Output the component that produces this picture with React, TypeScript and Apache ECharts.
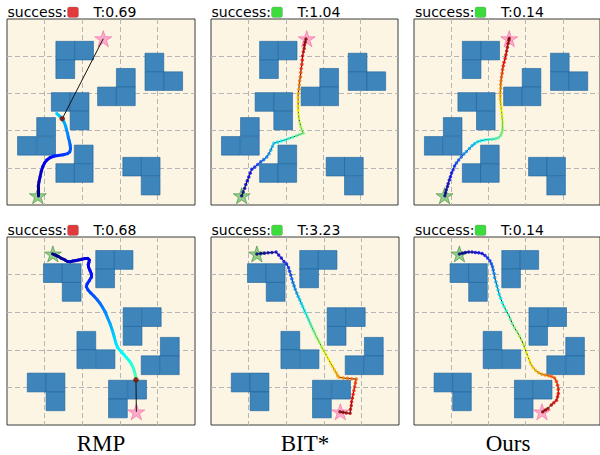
import React, { useEffect, useRef } from "react";
import * as echarts from "echarts";

// ---------------- data ----------------
const methodLabels = ["RMP", "BIT*", "Ours"];
const timesTop = ["T:0.69", "T:1.04", "T:0.14"];
const timesBottom = ["T:0.68", "T:3.23", "T:0.14"];
const successTop = [false, true, true];
const successBottom = [false, true, true];

const obstacleSize = 0.5;
// lower-left corners of square obstacles
const obstaclesTop = [
  [1.30, 3.90], [1.80, 3.90], [1.30, 3.40],
  [2.91, 3.17], [2.41, 2.67], [2.91, 2.67],
  [3.67, 3.58], [3.67, 3.08], [4.17, 3.08],
  [1.18, 2.52], [1.68, 2.52], [1.68, 2.02],
  [0.79, 1.85], [0.28, 1.34], [0.79, 1.34],
  [1.79, 1.11], [1.30, 0.61], [1.79, 0.61],
  [3.08, 0.78], [3.57, 0.78], [3.57, 0.27],
];
const obstaclesBottom = [
  [0.97, 3.79], [1.47, 3.79], [1.47, 3.29],
  [2.36, 4.14], [2.85, 4.14], [2.36, 3.65],
  [3.09, 2.62], [3.60, 2.62], [3.09, 2.12],
  [1.86, 1.99], [1.86, 1.50], [2.37, 1.50],
  [4.08, 1.83], [3.57, 1.34], [4.08, 1.34],
  [0.54, 0.88], [1.04, 0.88], [1.04, 0.38],
  [2.70, 0.69], [3.21, 0.69], [2.70, 0.19],
];

const startTop = [0.82, 0.25];
const goalTop = [2.56, 4.47];
const startBottom = [1.22, 4.55];
const goalBottom = [3.44, 0.35];

const rmpTop = [
  [0.82, 0.24], [0.82, 0.36], [0.83, 0.49], [0.85, 0.62], [0.88, 0.76], [0.91, 0.90],
  [0.95, 1.03], [1.00, 1.13], [1.06, 1.21], [1.14, 1.27], [1.24, 1.31], [1.36, 1.33],
  [1.50, 1.35], [1.61, 1.38], [1.67, 1.43], [1.69, 1.52], [1.68, 1.61], [1.66, 1.71],
  [1.63, 1.82], [1.61, 1.93], [1.58, 2.03], [1.56, 2.12], [1.52, 2.22], [1.48, 2.30],
  [1.43, 2.36], [1.38, 2.41], [1.32, 2.46],
];
const rmpTopStuck = [1.47, 2.32];
const rmpTopColorEnd = 0.33;

const rmpBottom = [
  [1.21, 4.55], [1.29, 4.52], [1.37, 4.48], [1.45, 4.43], [1.54, 4.39], [1.61, 4.35],
  [1.68, 4.34], [1.75, 4.36], [1.81, 4.37], [1.90, 4.39], [1.99, 4.41], [2.08, 4.43],
  [2.15, 4.43], [2.19, 4.39], [2.18, 4.33], [2.16, 4.27], [2.17, 4.20], [2.21, 4.10],
  [2.24, 4.02], [2.24, 3.93], [2.19, 3.84], [2.13, 3.75], [2.11, 3.68], [2.15, 3.60],
  [2.22, 3.52], [2.31, 3.43], [2.40, 3.33], [2.47, 3.24], [2.54, 3.13], [2.61, 3.01],
  [2.67, 2.86], [2.74, 2.70], [2.80, 2.52], [2.85, 2.35], [2.89, 2.20], [2.94, 2.06],
  [3.02, 1.97], [3.10, 1.88], [3.18, 1.79], [3.25, 1.71], [3.31, 1.62], [3.36, 1.51],
  [3.39, 1.42], [3.41, 1.33], [3.43, 1.20],
];
const rmpBottomStuck = [3.43, 1.20];
const rmpBottomColorEnd = 0.45;

const bitTop = [
  [0.82, 0.25], [0.86, 0.35], [0.90, 0.45], [0.93, 0.55], [0.97, 0.65], [1.01, 0.75],
  [1.05, 0.86], [1.09, 0.96], [1.17, 1.02], [1.25, 1.09], [1.33, 1.16], [1.41, 1.22],
  [1.49, 1.29], [1.55, 1.38], [1.60, 1.48], [1.64, 1.57], [1.68, 1.66], [1.78, 1.69],
  [1.88, 1.72], [1.98, 1.75], [2.08, 1.79], [2.18, 1.82], [2.28, 1.86], [2.38, 1.90],
  [2.47, 1.93], [2.43, 2.02], [2.40, 2.11], [2.37, 2.22], [2.35, 2.33], [2.34, 2.44],
  [2.33, 2.55], [2.33, 2.66], [2.33, 2.78], [2.33, 2.89], [2.33, 3.00], [2.35, 3.11],
  [2.36, 3.23], [2.37, 3.34], [2.39, 3.45], [2.40, 3.56], [2.41, 3.67], [2.43, 3.78],
  [2.44, 3.90], [2.45, 4.01], [2.47, 4.12], [2.49, 4.21], [2.50, 4.30], [2.52, 4.38],
  [2.54, 4.46],
];

const oursTop = [
  [0.83, 0.25], [0.85, 0.33], [0.87, 0.41], [0.90, 0.50], [0.92, 0.58], [0.95, 0.67],
  [0.98, 0.76], [1.01, 0.86], [1.05, 0.95], [1.09, 1.05], [1.14, 1.13], [1.20, 1.21],
  [1.27, 1.29], [1.34, 1.37], [1.41, 1.44], [1.49, 1.52], [1.56, 1.59], [1.63, 1.65],
  [1.71, 1.70], [1.80, 1.73], [1.90, 1.75], [2.00, 1.76], [2.10, 1.77], [2.19, 1.78],
  [2.27, 1.81], [2.33, 1.87], [2.36, 1.95], [2.38, 2.04], [2.38, 2.14], [2.38, 2.24],
  [2.37, 2.34], [2.36, 2.44], [2.35, 2.54], [2.34, 2.64], [2.33, 2.74], [2.32, 2.84],
  [2.32, 2.94], [2.32, 3.04], [2.33, 3.14], [2.33, 3.24], [2.34, 3.34], [2.35, 3.44],
  [2.37, 3.54], [2.38, 3.64], [2.40, 3.74], [2.42, 3.84], [2.45, 3.94], [2.47, 4.04],
  [2.49, 4.14], [2.51, 4.24], [2.53, 4.34], [2.55, 4.43], [2.56, 4.48],
];

const bitBottom = [
  [1.22, 4.55], [1.32, 4.56], [1.42, 4.57], [1.52, 4.58], [1.62, 4.59], [1.73, 4.60],
  [1.80, 4.52], [1.87, 4.44], [1.94, 4.35], [2.01, 4.28], [2.06, 4.19], [2.09, 4.09],
  [2.12, 3.99], [2.15, 3.89], [2.18, 3.79], [2.21, 3.70], [2.24, 3.61], [2.28, 3.51],
  [2.32, 3.42], [2.36, 3.33], [2.40, 3.24], [2.44, 3.15], [2.48, 3.06], [2.52, 2.97],
  [2.56, 2.88], [2.60, 2.79], [2.64, 2.70], [2.68, 2.61], [2.72, 2.52], [2.76, 2.44],
  [2.80, 2.35], [2.85, 2.26], [2.89, 2.18], [2.94, 2.09], [2.98, 2.00], [3.03, 1.92],
  [3.08, 1.83], [3.13, 1.74], [3.18, 1.65], [3.23, 1.56], [3.28, 1.47], [3.33, 1.39],
  [3.37, 1.31], [3.41, 1.27], [3.52, 1.25], [3.63, 1.24], [3.74, 1.23], [3.86, 1.22],
  [3.84, 1.12], [3.82, 1.02], [3.80, 0.92], [3.78, 0.82], [3.76, 0.72], [3.74, 0.62],
  [3.73, 0.52], [3.71, 0.42], [3.70, 0.31], [3.60, 0.32], [3.51, 0.34], [3.43, 0.35],
];

const oursBottom = [
  [1.22, 4.55], [1.30, 4.57], [1.38, 4.59], [1.47, 4.60], [1.56, 4.60], [1.65, 4.59],
  [1.74, 4.58], [1.83, 4.56], [1.91, 4.51], [1.98, 4.44], [2.04, 4.37], [2.08, 4.29],
  [2.11, 4.21], [2.13, 4.12], [2.15, 4.03], [2.17, 3.92], [2.20, 3.81], [2.23, 3.70],
  [2.26, 3.59], [2.29, 3.48], [2.33, 3.37], [2.37, 3.26], [2.42, 3.15], [2.48, 3.04],
  [2.54, 2.93], [2.59, 2.82], [2.64, 2.70], [2.70, 2.59], [2.77, 2.48], [2.83, 2.37],
  [2.89, 2.26], [2.94, 2.15], [2.98, 2.04], [3.02, 1.93], [3.06, 1.82], [3.10, 1.72],
  [3.14, 1.62], [3.20, 1.53], [3.27, 1.45], [3.35, 1.39], [3.44, 1.35], [3.53, 1.33],
  [3.62, 1.31], [3.70, 1.29], [3.78, 1.25], [3.83, 1.16], [3.86, 1.06], [3.88, 0.95],
  [3.88, 0.84], [3.86, 0.75], [3.83, 0.66], [3.76, 0.59], [3.69, 0.53], [3.60, 0.44],
  [3.53, 0.40], [3.46, 0.35],
];

// ---------------- helpers ----------------
const STAR =
  "path://M50,2 L61.2,36.2 L97.6,36.2 L68.2,57.4 L79.4,91.8 L50,70.6 L20.6,91.8 L31.8,57.4 L2.4,36.2 L38.8,36.2 Z";

function jet(t: number): string {
  const c = (v: number) => Math.round(255 * Math.max(0, Math.min(1, v)));
  const r = 1.5 - Math.abs(4 * t - 3);
  const g = 1.5 - Math.abs(4 * t - 2);
  const b = 1.5 - Math.abs(4 * t - 1);
  return `rgb(${c(r)},${c(g)},${c(b)})`;
}

function arcT(pts: number[][]): number[] {
  const d = [0];
  for (let k = 1; k < pts.length; k++) {
    d.push(d[k - 1] + Math.hypot(pts[k][0] - pts[k - 1][0], pts[k][1] - pts[k - 1][1]));
  }
  const L = d[d.length - 1] || 1;
  return d.map((v) => v / L);
}

const gridBoxes = [
  { left: 7, top: 19, width: 188, height: 186 },
  { left: 211, top: 19, width: 187, height: 186 },
  { left: 414, top: 19, width: 188, height: 186 },
  { left: 7, top: 237, width: 188, height: 188 },
  { left: 211, top: 237, width: 188, height: 188 },
  { left: 414, top: 237, width: 188, height: 188 },
];

type Panel = {
  kind: "rmp" | "dots";
  path: number[][];
  stuck?: number[];
  colorEnd?: number;
  obstacles: number[][];
  start: number[];
  goal: number[];
};

const panels: Panel[] = [
  { kind: "rmp", path: rmpTop, stuck: rmpTopStuck, colorEnd: rmpTopColorEnd, obstacles: obstaclesTop, start: startTop, goal: goalTop },
  { kind: "dots", path: bitTop, obstacles: obstaclesTop, start: startTop, goal: goalTop },
  { kind: "dots", path: oursTop, obstacles: obstaclesTop, start: startTop, goal: goalTop },
  { kind: "rmp", path: rmpBottom, stuck: rmpBottomStuck, colorEnd: rmpBottomColorEnd, obstacles: obstaclesBottom, start: startBottom, goal: goalBottom },
  { kind: "dots", path: bitBottom, obstacles: obstaclesBottom, start: startBottom, goal: goalBottom },
  { kind: "dots", path: oursBottom, obstacles: obstaclesBottom, start: startBottom, goal: goalBottom },
];

function buildOption() {
  const grid: any[] = [];
  const xAxis: any[] = [];
  const yAxis: any[] = [];
  const series: any[] = [];
  const axisBase = {
    type: "value",
    min: 0,
    max: 5,
    interval: 1,
    axisLabel: { show: false },
    axisTick: { show: false },
    axisLine: { show: false },
    splitLine: {
      show: true,
      showMinLine: false,
      showMaxLine: false,
      lineStyle: { color: "#b5b5b5", width: 1, type: [5, 3] },
    },
  };

  panels.forEach((p, i) => {
    grid.push({
      ...gridBoxes[i],
      show: true,
      backgroundColor: "#fcf5e3",
      borderColor: "#3a3a3a",
      borderWidth: 1,
      containLabel: false,
    });
    xAxis.push({ ...axisBase, gridIndex: i });
    yAxis.push({ ...axisBase, gridIndex: i });

    series.push({
      type: "custom",
      xAxisIndex: i,
      yAxisIndex: i,
      silent: true,
      z: 2,
      data: p.obstacles,
      renderItem: (_params: any, api: any) => {
        const x = api.value(0);
        const y = api.value(1);
        const tl = api.coord([x, y + obstacleSize]);
        const sz = api.size([obstacleSize, obstacleSize]);
        return {
          type: "rect",
          shape: { x: tl[0], y: tl[1], width: sz[0], height: sz[1] },
          style: { fill: "#3e85bb", stroke: "rgba(28,98,158,0.6)", lineWidth: 1 },
        };
      },
    });

    series.push({
      type: "scatter",
      xAxisIndex: i,
      yAxisIndex: i,
      symbol: STAR,
      symbolSize: [17, 16],
      silent: true,
      z: 3,
      data: [
        {
          value: p.start,
          itemStyle: { color: "rgba(70,175,70,0.7)", borderColor: "rgba(40,130,40,0.85)", borderWidth: 0.8 },
        },
        {
          value: p.goal,
          itemStyle: { color: "rgba(255,110,180,0.7)", borderColor: "rgba(240,90,160,0.85)", borderWidth: 0.8 },
        },
      ],
    });

    if (p.kind === "rmp") {
      const ts = arcT(p.path);
      const segs = [];
      for (let k = 0; k < p.path.length - 1; k++) {
        segs.push({
          coords: [p.path[k], p.path[k + 1]],
          lineStyle: { color: jet(((ts[k] + ts[k + 1]) / 2) * (p.colorEnd as number)) },
        });
      }
      series.push({
        type: "lines",
        coordinateSystem: "cartesian2d",
        xAxisIndex: i,
        yAxisIndex: i,
        polyline: false,
        silent: true,
        z: 4,
        lineStyle: { width: 3, opacity: 1, cap: "round", join: "round" },
        data: segs,
      });
      series.push({
        type: "line",
        xAxisIndex: i,
        yAxisIndex: i,
        symbol: "none",
        silent: true,
        z: 5,
        lineStyle: { color: "#111", width: 1 },
        data: [p.stuck, p.goal],
      });
      series.push({
        type: "scatter",
        xAxisIndex: i,
        yAxisIndex: i,
        symbolSize: 5,
        silent: true,
        z: 6,
        itemStyle: { color: "#8b0000", borderColor: "#5a3a00", borderWidth: 0.6 },
        data: [p.stuck],
      });
    } else {
      const n = p.path.length;
      series.push({
        type: "line",
        xAxisIndex: i,
        yAxisIndex: i,
        symbol: "none",
        silent: true,
        z: 4,
        lineStyle: { color: "#111", width: 1 },
        data: p.path,
      });
      series.push({
        type: "scatter",
        xAxisIndex: i,
        yAxisIndex: i,
        symbolSize: 3.5,
        silent: true,
        z: 5,
        data: p.path.map((pt, k) => ({ value: pt, itemStyle: { color: jet(k / (n - 1)) } })),
      });
    }
  });

  const graphic: any[] = [];
  const colX = [7.5, 211.5, 415];
  const rowY = [12, 230];
  const centers = [101, 305, 508];
  [0, 1].forEach((r) => {
    const times = r === 0 ? timesTop : timesBottom;
    const succ = r === 0 ? successTop : successBottom;
    colX.forEach((x0, c) => {
      graphic.push({
        type: "text",
        x: x0,
        y: rowY[r],
        style: { text: "success:", fontSize: 14, fontFamily: "DejaVu Sans", fill: "#000", verticalAlign: "middle" },
      });
      graphic.push({
        type: "rect",
        x: x0 + 60,
        y: rowY[r] - 5,
        shape: { width: 11, height: 10.5, r: 2 },
        style: { fill: succ[c] ? "#3ddc3d" : "#e03a3a", stroke: "rgba(120,120,120,0.5)", lineWidth: 0.6 },
      });
      graphic.push({
        type: "text",
        x: x0 + 86,
        y: rowY[r],
        style: { text: times[c], fontSize: 14, fontFamily: "DejaVu Sans", fill: "#000", verticalAlign: "middle" },
      });
    });
  });
  methodLabels.forEach((lab, c) => {
    graphic.push({
      type: "text",
      x: centers[c],
      y: 443,
      style: {
        text: lab,
        fontSize: 23,
        fontFamily: "Liberation Serif",
        fill: "#000",
        align: "center",
        verticalAlign: "middle",
      },
    });
  });

  return {
    animation: false,
    backgroundColor: "#ffffff",
    grid,
    xAxis,
    yAxis,
    series,
    graphic,
  };
}

export default function App() {
  const ref = useRef<HTMLDivElement>(null);
  useEffect(() => {
    if (!ref.current) return;
    const chart = echarts.init(ref.current, undefined, { renderer: "svg" });
    chart.setOption(buildOption() as any);
    return () => chart.dispose();
  }, []);
  return (
    <div
      ref={ref}
      style={{ position: "fixed", left: 0, top: 0, width: 600, height: 455 }}
    />
  );
}
